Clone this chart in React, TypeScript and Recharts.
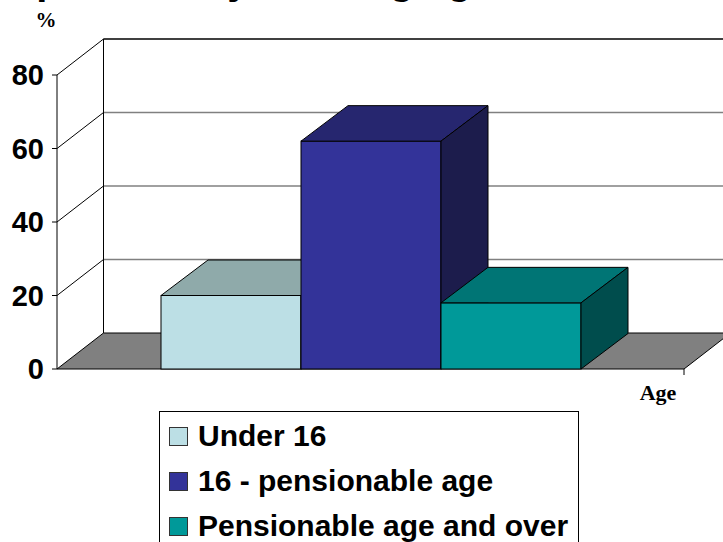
import React from 'react';
import { BarChart, Bar, XAxis, YAxis, CartesianGrid, Legend, Customized } from 'recharts';

// ---- data ----
const categories = ['Age'];
const seriesKeys = ['under16', 'working', 'pension'];
const seriesNames = ['Under 16', '16 - pensionable age', 'Pensionable age and over'];
const under16Values = [20];
const workingValues = [62];
const pensionValues = [18];
const yTicks = [0, 20, 40, 60, 80];
const titleText = 'Population by working age';
const yUnitLabel = '%';
const xAxisLabel = 'Age';

// ---- styles ----
const frontColors = ['#BCDFE5', '#333399', '#009999'];
const topColors = ['#8FAAAA', '#26266F', '#007575'];
const sideColors = ['#5E7777', '#1C1C4C', '#004D4D'];

const data = categories.map((c, i) => ({
  category: c,
  under16: under16Values[i],
  working: workingValues[i],
  pension: pensionValues[i],
}));

const SANS = '"Liberation Sans", Arial, sans-serif';
const SERIF = '"Liberation Serif", "Times New Roman", serif';

const BAR_DX = 47;
const BAR_DY = 35.5;
const WALL_DX = 46.5;
const WALL_DY = 36;

const pts = (arr: number[][]) => arr.map(([a, b]) => `${a},${b}`).join(' ');

function makeBox(idx: number) {
  return (props: any) => {
    const { x, y, width, height } = props;
    if (x == null || y == null) return <g />;
    return (
      <g>
        <rect x={x} y={y} width={width} height={height} fill={frontColors[idx]} stroke="#000" strokeWidth={1} />
        <polygon
          points={pts([[x, y], [x + width, y], [x + width + BAR_DX, y - BAR_DY], [x + BAR_DX, y - BAR_DY]])}
          fill={topColors[idx]}
          stroke="#000"
          strokeWidth={1}
        />
        <polygon
          points={pts([
            [x + width, y],
            [x + width + BAR_DX, y - BAR_DY],
            [x + width + BAR_DX, y + height - BAR_DY],
            [x + width, y + height],
          ])}
          fill={sideColors[idx]}
          stroke="#000"
          strokeWidth={1}
        />
      </g>
    );
  };
}

const renderGrid = (props: any) => {
  const { index, horizontalPoints, x1, x2 } = props;
  if (index !== 0 || !horizontalPoints) return <g key={`grid-${index}`} />;
  const top = Math.min(...horizontalPoints);
  const bottom = Math.max(...horizontalPoints);
  const left = x1;
  const right = x2;
  const mids = horizontalPoints.filter((p: number) => p !== top && p !== bottom);
  return (
    <g key="grid-backdrop">
      <polygon
        points={pts([
          [left, bottom],
          [right, bottom],
          [right + WALL_DX, bottom - WALL_DY],
          [left + WALL_DX, bottom - WALL_DY],
        ])}
        fill="#808080"
        stroke="#000"
        strokeWidth={1}
      />
      {mids.map((p: number, i: number) => (
        <g key={`gl-${i}`}>
          <line x1={left + WALL_DX} y1={p - WALL_DY} x2={right + WALL_DX + 20} y2={p - WALL_DY} stroke="#808080" strokeWidth={1.5} />
          <line x1={left} y1={p} x2={left + WALL_DX} y2={p - WALL_DY} stroke="#000" strokeWidth={1} />
        </g>
      ))}
      <line x1={left + WALL_DX} y1={top - WALL_DY} x2={right + WALL_DX + 20} y2={top - WALL_DY} stroke="#000" strokeWidth={1.5} />
      <line x1={left} y1={top} x2={left + WALL_DX} y2={top - WALL_DY} stroke="#000" strokeWidth={1} />
      <line x1={left + WALL_DX} y1={top - WALL_DY} x2={left + WALL_DX} y2={bottom - WALL_DY} stroke="#000" strokeWidth={1} />
      <line x1={right} y1={bottom} x2={right} y2={bottom + 6} stroke="#000" strokeWidth={1} />
    </g>
  );
};

const renderLegend = (props: any) => {
  const payload = [...(props.payload || [])].sort(
    (a: any, b: any) => seriesNames.indexOf(a.value) - seriesNames.indexOf(b.value)
  );
  return (
    <div
      style={{
        border: '1px solid #000',
        boxSizing: 'border-box',
        width: 420,
        height: 140,
        paddingTop: 1,
        background: '#fff',
      }}
    >
      {payload.map((entry: any, i: number) => (
        <div
          key={i}
          style={{
            height: 45,
            lineHeight: '45px',
            fontSize: 30,
            fontWeight: 'bold',
            fontFamily: SANS,
            whiteSpace: 'nowrap',
            paddingLeft: 9,
            color: '#000',
            textAlign: 'left',
          }}
        >
          <span
            style={{
              display: 'inline-block',
              width: 17,
              height: 17,
              background: entry.color,
              border: '1px solid #333',
              marginRight: 10,
              verticalAlign: 'baseline',
            }}
          />
          {entry.value}
        </div>
      ))}
    </div>
  );
};

const Annotations = () => (
  <g>
    <text x={494} y={-6} textAnchor="end" fontFamily={SANS} fontWeight="bold" fontSize={40} fill="#000">
      {titleText}
    </text>
    <text x={46} y={27} textAnchor="middle" fontFamily={SERIF} fontWeight="bold" fontSize={21} fill="#000">
      {yUnitLabel}
    </text>
    <text x={658} y={400} textAnchor="middle" fontFamily={SERIF} fontWeight="bold" fontSize={22} fill="#000">
      {xAxisLabel}
    </text>
  </g>
);

export default function App() {
  return (
    <div style={{ position: 'absolute', left: 0, top: 0, width: 723, height: 542, background: '#fff', overflow: 'hidden' }}>
      <BarChart
        width={723}
        height={542}
        data={data}
        margin={{ top: 75, right: 39, bottom: 173, left: 0 }}
        barCategoryGap={104}
        barGap={0}
      >
        <CartesianGrid horizontal={renderGrid} vertical={false} />
        <XAxis dataKey="category" tick={false} height={0} axisLine={{ stroke: '#000' }} tickLine={false} />
        <YAxis
          width={57}
          domain={[0, 80]}
          ticks={yTicks}
          interval={0}
          tickSize={5}
          tickMargin={8}
          axisLine={{ stroke: '#000' }}
          tickLine={{ stroke: '#000' }}
          tick={{ fill: '#000', fontSize: 29, fontWeight: 'bold', fontFamily: SANS }}
        />
        {seriesKeys.map((k, i) => (
          <Bar
            key={k}
            dataKey={k}
            name={seriesNames[i]}
            fill={frontColors[i]}
            shape={makeBox(i)}
            isAnimationActive={false}
          />
        ))}
        <Legend
          layout="vertical"
          align="center"
          verticalAlign="middle"
          content={renderLegend}
          wrapperStyle={{ left: 159, top: 411, width: 420 }}
        />
        <Customized component={Annotations} />
      </BarChart>
    </div>
  );
}
